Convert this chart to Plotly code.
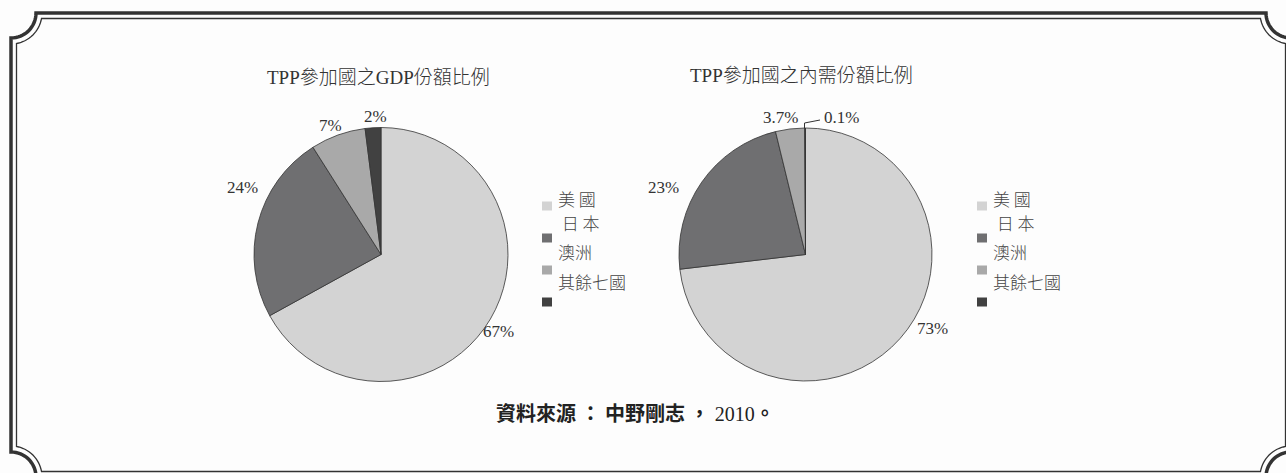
import math
import plotly.graph_objects as go

W, H = 1286, 473

# ---- data ----
country_labels = ["美國", "日本", "澳洲", "其餘七國"]
gdp_values = [67, 24, 7, 2]
gdp_text = ["67%", "24%", "7%", "2%"]
demand_values = [73, 23, 3.7, 0.1]
demand_text = ["73%", "23%", "3.7%", "0.1%"]
slice_colors = ["#d3d3d3", "#6f6f71", "#a9a9a9", "#414141"]
legend_text = ["美 國", " 日 本", "澳洲", "其餘七國"]
titles = ["TPP參加國之GDP份額比例", "TPP參加國之內需份額比例"]
source_main = "資料來源 ： 中野剛志 ，"
source_year = "2010"
source_end = "。"

# ---- layout geometry (pixels) ----
pies = [
    dict(cx=381, cy=254.5, r=127, values=gdp_values, text=gdp_text,
         label_pos=[(498, 331), (242, 187), (330, 125), (375, 116)],
         title_pos=(378, 77), legend_x=542),
    dict(cx=805.5, cy=254.5, r=126.5, values=demand_values, text=demand_text,
         label_pos=[(932, 328), (663, 187), (780, 117), (841, 117)],
         title_pos=(801, 75), legend_x=977),
]
legend_square_y = [206, 238, 270, 302]
legend_text_y = [198, 222, 251, 281]

SERIF = "Liberation Serif, Noto Sans CJK TC, serif"
SANS = "Noto Sans CJK TC, sans-serif"

fig = go.Figure()
fig.add_trace(go.Scatter(x=[None], y=[None], showlegend=False, hoverinfo="skip"))

shapes = []
annotations = []

for i, p in enumerate(pies):
    cx, cy, r = p["cx"], p["cy"], p["r"]
    fig.add_trace(go.Pie(
        values=p["values"], labels=country_labels, sort=False,
        direction="clockwise", rotation=0, textinfo="none",
        marker=dict(colors=slice_colors, line=dict(color="#333333", width=0.8)),
        showlegend=False, hoverinfo="label+percent",
        domain=dict(x=[(cx - r) / W, (cx + r) / W],
                    y=[1 - (cy + r) / H, 1 - (cy - r) / H]),
    ))
    for txt, (lx, ly) in zip(p["text"], p["label_pos"]):
        annotations.append(dict(x=lx, y=ly, xref="x", yref="y", text=txt,
                                showarrow=False, xanchor="center", yanchor="middle",
                                font=dict(family=SERIF, size=17, color="#333333")))
    tx, ty = p["title_pos"]
    annotations.append(dict(x=tx, y=ty, xref="x", yref="y", text=titles[i],
                            showarrow=False, xanchor="center", yanchor="middle",
                            font=dict(family=SERIF, size=19, color="#333333", weight=300)))
    lx0 = p["legend_x"]
    for col, sy in zip(slice_colors, legend_square_y):
        shapes.append(dict(type="rect", xref="x", yref="y", x0=lx0, x1=lx0 + 10,
                           y0=sy - 4.5, y1=sy + 4.5, fillcolor=col, line=dict(width=0)))
    for t, ty2 in zip(legend_text, legend_text_y):
        annotations.append(dict(x=lx0 + 14, y=ty2, xref="x", yref="y", text=t,
                                showarrow=False, xanchor="left", yanchor="middle",
                                font=dict(family=SANS, size=17, color="#444444", weight=300)))

# leader line for 0.1%
shapes.append(dict(type="path", xref="x", yref="y",
                   path="M 804.5,128 L 804.5,123 L 820,120",
                   line=dict(color="#333333", width=1)))

# source
source_html = (source_main +
               "<span style='font-family:Liberation Serif;font-weight:normal'> " +
               source_year + "</span>" + source_end)
annotations.append(dict(x=635, y=412, xref="x", yref="y", text=source_html,
                        showarrow=False, xanchor="center", yanchor="middle",
                        font=dict(family=SANS, size=20, color="#222222", weight="bold")))


# ---- decorative frame with concave corners ----
def frame_path(x0, x1, y0, y1, R, d, n=16):
    a, b = math.asin(d / R), math.acos(d / R)
    phis = [a + (b - a) * k / n for k in range(n + 1)]
    pts = []
    cx, cy = x1, y0
    pts += [(cx - R * math.cos(f), cy + R * math.sin(f)) for f in phis]
    cx, cy = x1, y1
    pts += [(cx - R * math.cos(f), cy - R * math.sin(f)) for f in reversed(phis)]
    cx, cy = x0, y1
    pts += [(cx + R * math.cos(f), cy - R * math.sin(f)) for f in phis]
    cx, cy = x0, y0
    pts += [(cx + R * math.cos(f), cy + R * math.sin(f)) for f in reversed(phis)]
    return "M " + " L ".join(f"{x:.2f},{y:.2f}" for x, y in pts) + " Z"


shapes.append(dict(type="path", xref="x", yref="y", layer="below",
                   path=frame_path(11, 1291, 13, 477, 25, 0),
                   line=dict(color="#333333", width=3.5)))
shapes.append(dict(type="path", xref="x", yref="y", layer="below",
                   path=frame_path(11, 1291, 13, 477, 31, 5.5),
                   line=dict(color="#333333", width=1.3)))

fig.update_layout(
    width=W, height=H,
    margin=dict(l=0, r=0, t=0, b=0),
    paper_bgcolor="#fdfdfd", plot_bgcolor="rgba(0,0,0,0)",
    xaxis=dict(range=[0, W], visible=False, domain=[0, 1], fixedrange=True),
    yaxis=dict(range=[H, 0], visible=False, domain=[0, 1], fixedrange=True),
    shapes=shapes, annotations=annotations, showlegend=False,
)

fig.write_html("out.html")
